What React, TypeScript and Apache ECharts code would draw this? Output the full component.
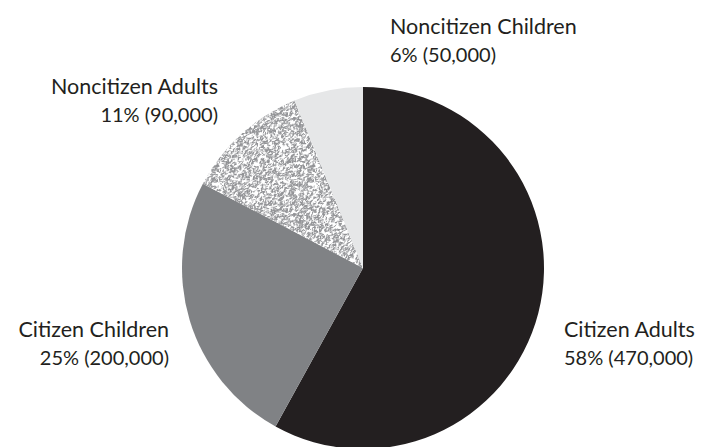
import React, { useEffect, useRef } from "react";
import * as echarts from "echarts";

// Population groups, clockwise from 12 o'clock
const categories = ["Citizen Adults", "Citizen Children", "Noncitizen Adults", "Noncitizen Children"];
const counts = [470000, 200000, 90000, 50000];

// Where each two-line label sits (anchor point and alignment)
const labelAnchors = [
  { x: 564, y: 343, align: "left" },
  { x: 169, y: 343, align: "right" },
  { x: 218, y: 100, align: "right" },
  { x: 390, y: 40, align: "left" },
];

const INK = "#231f20";

// Fine grainy speckle fill for the textured slice (deterministic generator)
function makeGrain(): HTMLCanvasElement {
  const size = 96;
  const c = document.createElement("canvas");
  c.width = size;
  c.height = size;
  const ctx = c.getContext("2d")!;
  let s = 1234567;
  const rnd = () => {
    s = (s * 1103515245 + 12345) & 0x7fffffff;
    return s / 0x7fffffff;
  };
  ctx.fillStyle = "#ffffff";
  ctx.fillRect(0, 0, size, size);
  ctx.strokeStyle = "#929396";
  ctx.lineCap = "round";
  for (let i = 0; i < 2800; i++) {
    const x = rnd() * size;
    const y = rnd() * size;
    const a = -0.7 + (rnd() - 0.5) * 2.2;
    const len = 0.5 + rnd() * 2.5;
    ctx.lineWidth = 0.5 + rnd() * 0.8;
    for (let dx = -size; dx <= size; dx += size) {
      for (let dy = -size; dy <= size; dy += size) {
        ctx.beginPath();
        ctx.moveTo(x + dx, y + dy);
        ctx.lineTo(x + dx + Math.cos(a) * len, y + dy + Math.sin(a) * len);
        ctx.stroke();
      }
    }
  }
  return c;
}

export default function App() {
  const ref = useRef<HTMLDivElement>(null);

  useEffect(() => {
    if (!ref.current) return;
    const chart = echarts.init(ref.current, null, { renderer: "svg" });
    const fills: any[] = [
      "#231f20",
      "#808285",
      { image: makeGrain(), repeat: "repeat" },
      "#e6e7e8",
    ];
    const fmt = (v: number) => v.toLocaleString("en-US");
    chart.setOption({
      animation: false,
      backgroundColor: "#ffffff",
      series: [
        {
          type: "pie",
          center: [363, 268],
          radius: 181,
          startAngle: 90,
          clockwise: true,
          silent: true,
          percentPrecision: 0,
          data: categories.map((name, i) => ({
            name,
            value: counts[i],
            itemStyle: { color: fills[i] },
          })),
          itemStyle: { borderWidth: 0 },
          label: {
            show: true,
            position: "outside",
            alignTo: "none",
            overflow: "none",
            bleedMargin: 0,
            color: INK,
            fontFamily: "Lato",
            formatter: (p: any) => `{n|${p.name}}\n{v|${p.percent}% (${fmt(p.value)})}`,
            rich: {
              n: { fontFamily: "Lato", fontSize: 21.5, lineHeight: 28, color: INK },
              v: { fontFamily: "Lato", fontSize: 20, lineHeight: 28, color: INK },
            },
          },
          labelLine: { show: false },
          labelLayout: (p: any) => {
            const a = labelAnchors[p.dataIndex];
            return { x: a.x, y: a.y, align: a.align, verticalAlign: "middle" };
          },
        },
      ],
    });
    return () => chart.dispose();
  }, []);

  return (
    <div
      ref={ref}
      style={{ position: "fixed", left: 0, top: 0, width: 702, height: 447 }}
    />
  );
}
